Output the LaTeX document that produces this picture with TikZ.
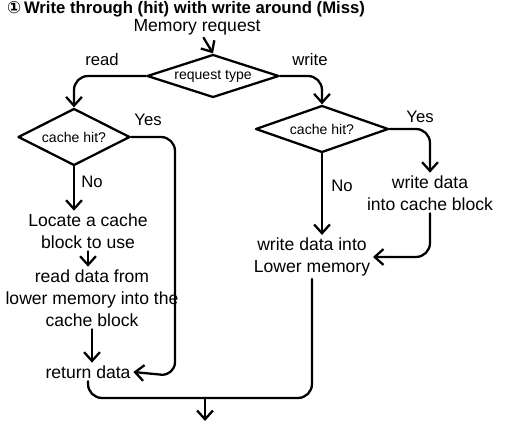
\documentclass[tikz,border=0pt]{standalone}
\usepackage{fontspec}
\setmainfont{Liberation Sans}
\newfontfamily\dejavu{DejaVu Sans}
\usetikzlibrary{shapes.geometric,arrows.meta,calc}
\begin{document}
\begin{tikzpicture}[x=0.02cm,y=-0.02cm,
  line width=1.3pt, line cap=round, line join=round,
  lbl/.style={font=\fontsize{10}{12.5}\selectfont, align=center, inner sep=1pt},
  small/.style={font=\fontsize{9.5}{11}\selectfont, inner sep=1pt},
  dec/.style={draw, diamond, inner sep=0pt, font=\fontsize{8}{10}\selectfont},
  arr/.style={-{Straight Barb[length=5pt,width=9pt]}},
  flow/.style={rounded corners=8pt}]
\useasboundingbox (0,0) rectangle (517,422);

% title and start
\node[font=\fontsize{9.5}{11}\selectfont\bfseries, inner sep=0pt] (title) at (186,9)
  {{\dejavu ①}\,Write through (hit) with write around (Miss)};
\node[lbl] (mem) at (197,27) {Memory request};

% decisions
\node[dec, aspect=3.2, minimum width=2.64cm, minimum height=0.86cm] (rt) at (213,76) {request type};
\node[dec, aspect=2, minimum width=2.24cm, minimum height=1.14cm] (lc) at (74,137) {cache hit?};
\node[dec, aspect=2.8, minimum width=2.66cm, minimum height=0.94cm] (rc) at (322,129) {cache hit?};

% branch labels
\node[small] (lread) at (102,60) {read};
\node[small] (lwrite) at (310,60) {write};
\node[small] (lyes) at (148,120) {Yes};
\node[small] (lno) at (92,182) {No};
\node[small] (ryes) at (420,117) {Yes};
\node[small] (rno) at (342,186) {No};

% read path boxes
\node[lbl] (loc) at (88,231) {Locate a cache\\block to use};
\node[lbl] (rd) at (92,298) {read data from\\lower memory into the\\cache block};
\node[lbl] (ret) at (88,372) {return data};

% write path boxes
\node[lbl] (wc) at (430,193) {write data\\into cache block};
\node[lbl] (wl) at (312,257) {write data into\\Lower memory};

% helper coordinates
\coordinate (yc) at (175,376);
\coordinate (m) at (205,398);
\coordinate (e) at (205,421);

% connectors
\draw[arr] (mem) -- (rt.north);
\draw[arr, flow] (rt.west) -| (lc.north);
\draw[arr, flow] (rt.east) -| (rc.north);
\draw[arr, flow] (lc.east) -| (yc) -- (ret.east);
\draw[arr] (lc.south) -- (lc.south |- loc.north);
\draw[arr] (loc.south) -- (loc.south |- rd.north);
\draw[arr] (rd.south) -- (rd.south |- ret.north);
\draw[flow] (ret.south) |- (m);
\draw[arr, flow] (rc.east) -| (wc.north);
\draw[arr] (rc.south) -- (rc.south |- wl.north);
\draw[arr, flow] (wc.south) |- (wl.east);
\draw[flow] (wl.south) |- (m);
\draw[arr] (m) -- (e);
\end{tikzpicture}
\end{document}
